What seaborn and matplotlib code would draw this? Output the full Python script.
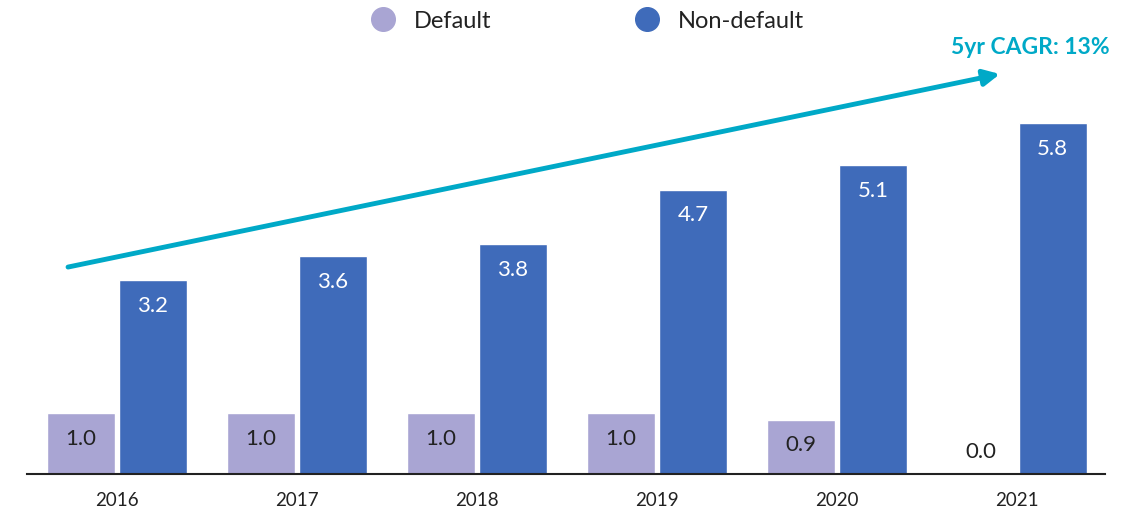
import pandas as pd
import matplotlib.pyplot as plt
from matplotlib.lines import Line2D
import seaborn as sns

years = ["2016", "2017", "2018", "2019", "2020", "2021"]
default_vals = [1.0, 1.0, 1.0, 1.0, 0.9, 0.0]
non_default_vals = [3.2, 3.6, 3.8, 4.7, 5.1, 5.8]
series = ["Default", "Non-default"]
colors = ["#A9A5D3", "#3F6BBA"]
cagr_text = "5yr CAGR: 13%"

df = pd.DataFrame({
    "year": years * 2,
    "value": default_vals + non_default_vals,
    "series": [series[0]] * len(years) + [series[1]] * len(years),
})

sns.set_style("white")
plt.rcParams["font.family"] = ["Lato", "DejaVu Sans"]

fig = plt.figure(figsize=(11.4, 5.1), dpi=100)
ax = fig.add_axes([27 / 1140, 35 / 510, 1078 / 1140, 475 / 510])

sns.barplot(data=df, x="year", y="value", hue="series", palette=colors,
            width=0.8, gap=0.05, ax=ax, legend=False, saturation=1)

# value labels, a bit below each bar top (zero label sits just above the axis)
off = 0.41
for i, v in enumerate(default_vals):
    ax.text(i - 0.2, max(v - off, 0.38), f"{v:.1f}", ha="center", va="center",
            fontsize=16, color="#222222")
for i, v in enumerate(non_default_vals):
    ax.text(i + 0.2, v - off, f"{v:.1f}", ha="center", va="center",
            fontsize=16, color="white")

ax.set_xlim(-0.5, 5.49)
ax.set_ylim(0, 7.85)
ax.set_xlabel("")
ax.set_ylabel("")
ax.set_yticks([])
ax.tick_params(axis="x", length=0, labelsize=13.5, pad=12, colors="#222222")
for s in ["top", "right", "left"]:
    ax.spines[s].set_visible(False)
ax.spines["bottom"].set_color("#222222")
ax.spines["bottom"].set_linewidth(1.5)

# growth arrow
ax.annotate("", xy=(4.906, 6.61), xytext=(-0.272, 3.42),
            arrowprops=dict(arrowstyle="-|>", color="#00A9C7", lw=3.5,
                            mutation_scale=24, shrinkA=0, shrinkB=0))
fig.text(1110 / 1140, 1 - 48 / 510, cagr_text, ha="right", va="center",
         fontsize=16.5, fontweight="bold", color="#00A9C7")

handles = [Line2D([], [], marker="o", linestyle="", markersize=17,
                  markerfacecolor=c, markeredgecolor=c) for c in colors]
fig.legend(handles, series, loc="center", bbox_to_anchor=(0.51, 1 - 22 / 510),
           ncol=2, frameon=False, fontsize=17, columnspacing=5.6,
           handletextpad=0.3, labelcolor="#222222")

fig.savefig("out.png", dpi=100)
